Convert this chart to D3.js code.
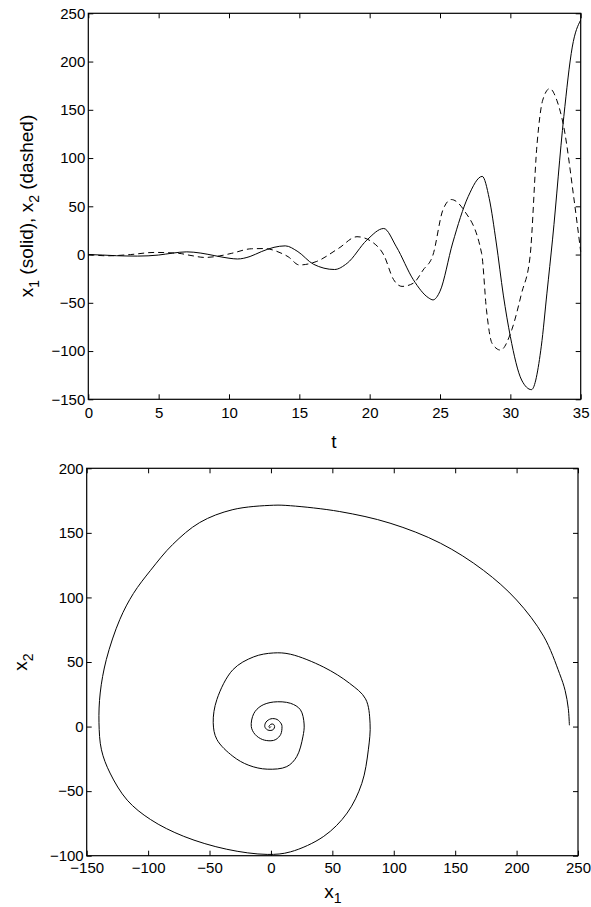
<!DOCTYPE html>
<html>
<head>
<meta charset="utf-8">
<script src="https://cdn.jsdelivr.net/npm/d3@7"></script>
<style>
  body { margin: 0; background: #fff; }
  svg { display: block; }
  text { font-family: "Liberation Sans", Arial, sans-serif; fill: #000; }
</style>
</head>
<body>
<svg width="591" height="907"></svg>
<script>
// top panel: x1 (solid) and x2 (dashed) against t
const solidT  = [0, 1, 2, 3.5, 5, 6, 7, 8, 9, 10, 10.6, 11.5, 12.3, 13.2, 14, 14.9, 16, 17.5, 18.4, 19.8, 21, 21.9, 23.1, 24.2, 24.5, 25, 25.9, 27, 28, 28.5, 29, 29.5, 30, 30.8, 31.5, 32.2, 32.6, 33, 33.8, 34.4, 35];
const solidX1 = [0, -0.5, -1.2, -1.6, -0.5, 1.5, 2.8, 1.5, -1.2, -3.8, -4.6, -2, 3, 7.5, 9, 3, -10, -15.5, -9, 15, 27, 8, -26, -45, -47, -38, 12, 60, 81, 58, 12, -42, -85, -130, -140, -95, -40, 16, 143, 215, 243];

const dashedT  = [0, 1.4, 3, 4.7, 6.4, 7.3, 8.3, 9.3, 10.2, 11.6, 12.5, 13.7, 14.2, 15, 16.2, 17.8, 19.1, 20.3, 21, 21.7, 22.3, 23.1, 23.8, 24.5, 25.2, 25.8, 26.7, 27.96, 28.3, 28.7, 29.3, 30.1, 30.8, 31.4, 31.9, 32.3, 32.8, 33.3, 33.8, 34.5, 35];
const dashedX2 = [0, -1.3, 0, 2.2, 1.3, -1, -3, -1.5, 1.3, 6, 6.2, 1.5, -2.2, -10.8, -7.3, 6.5, 18.5, 11.7, -0.4, -26, -33, -29.7, -16, -0.4, 46, 57, 46, 1, -57, -92, -99, -78, -40, -2, 115, 160, 172, 160, 132, 60, 3];

const topXTicks = [0, 5, 10, 15, 20, 25, 30, 35];
const topYTicks = [-150, -100, -50, 0, 50, 100, 150, 200, 250];

// bottom panel: phase plane x2 against x1, traced from the centre outwards
const phaseX1 = [0, -1, -1.6, 0, 2, 3, 2, 0, -3, -5, -4, 0, 5, 8.5, 9, 8, 4, 0, -7, -13, -16, -14, -8, 2, 16, 24, 27, 26, 21, 12.9, -3, -18, -31, -44, -47, -44, -31, -14, 2, 16, 43, 64, 77, 80.7, 79.3, 74, 62, 43, 16, -3, -36, -71, -98, -117, -131, -138, -140, -139, -134, -123, -112, -98, -80, -58, -31, 2, 16, 56, 97, 138, 173, 200, 222, 235, 239.5, 242.1, 243];
const phaseX2 = [0, -1, 0, 1.8, 1.8, 0, -2.2, -3, -2.5, 0, 3.5, 6, 5.5, 2, 0, -6, -10, -11, -10, -6, 0, 10, 16, 19, 18, 13, 2, -8, -23.3, -31, -33, -30, -23, -10, 3, 21, 44, 54, 57, 56, 46, 33.5, 21.5, 2.6, -18, -44, -67, -85, -97, -99, -95, -85, -72, -57, -36, -18, 3, 26, 52, 83, 103, 121, 141, 158, 168, 171.4, 171, 166.5, 157.5, 142, 121, 98, 70, 41, 28, 14, 1];

const botXTicks = [-150, -100, -50, 0, 50, 100, 150, 200, 250];
const botYTicks = [-100, -50, 0, 50, 100, 150, 200];

const svg = d3.select('svg');
const fmt = d3.format('');

function drawFrame(g, x, y, xTicks, yTicks, xPad) {
    const [x0, x1] = x.range();
    const [y0, y1] = y.range();

    g.append('g')
        .attr('transform', `translate(0,${y0})`)
        .call(d3.axisBottom(x).tickValues(xTicks).tickSize(-5).tickSizeOuter(0).tickPadding(xPad).tickFormat(fmt))
        .call(a => a.select('.domain').remove());
    g.append('g')
        .attr('transform', `translate(0,${y1})`)
        .call(d3.axisTop(x).tickValues(xTicks).tickSize(-5).tickSizeOuter(0).tickFormat(''))
        .call(a => a.select('.domain').remove());
    g.append('g')
        .attr('transform', `translate(${x0},0)`)
        .call(d3.axisLeft(y).tickValues(yTicks).tickSize(-5).tickSizeOuter(0).tickPadding(3).tickFormat(fmt))
        .call(a => a.select('.domain').remove());
    g.append('g')
        .attr('transform', `translate(${x1},0)`)
        .call(d3.axisRight(y).tickValues(yTicks).tickSize(-5).tickSizeOuter(0).tickFormat(''))
        .call(a => a.select('.domain').remove());

    g.selectAll('.tick line').attr('stroke', '#000').attr('stroke-width', 1);
    g.selectAll('.tick text').style('font-size', '15px').attr('fill', '#000');

    g.append('rect')
        .attr('x', x0).attr('y', y1)
        .attr('width', x1 - x0).attr('height', y0 - y1)
        .attr('fill', 'none').attr('stroke', '#000').attr('stroke-width', 1.2);
}

// ---- top panel
const xTop = d3.scaleLinear().domain([0, 35]).range([88.3, 580.7]);
const yTop = d3.scaleLinear().domain([-150, 250]).range([399.3, 13.3]);

const topPanel = svg.append('g');

const lineSolid = d3.line()
    .x((d, i) => xTop(solidT[i]))
    .y(d => yTop(d))
    .curve(d3.curveMonotoneX);

const lineDashed = d3.line()
    .x((d, i) => xTop(dashedT[i]))
    .y(d => yTop(d))
    .curve(d3.curveMonotoneX);

topPanel.append('path')
    .attr('d', lineSolid(solidX1))
    .attr('fill', 'none').attr('stroke', '#000').attr('stroke-width', 1);

topPanel.append('path')
    .attr('d', lineDashed(dashedX2))
    .attr('fill', 'none').attr('stroke', '#000').attr('stroke-width', 1)
    .attr('stroke-dasharray', '6,4');

drawFrame(topPanel, xTop, yTop, topXTicks, topYTicks, 8.5);

topPanel.append('text')
    .attr('x', 334).attr('y', 448)
    .attr('text-anchor', 'middle')
    .style('font-size', '19px')
    .text('t');

const yLab = topPanel.append('text')
    .attr('transform', 'translate(33,206) rotate(-90)')
    .attr('text-anchor', 'middle')
    .style('font-size', '19px');
yLab.append('tspan').text('x');
yLab.append('tspan').attr('dy', 6).style('font-size', '14px').text('1');
yLab.append('tspan').attr('dy', -6).text(' (solid), x');
yLab.append('tspan').attr('dy', 6).style('font-size', '14px').text('2');
yLab.append('tspan').attr('dy', -6).text(' (dashed)');

// ---- bottom panel
const xBot = d3.scaleLinear().domain([-150, 250]).range([86.7, 578]);
const yBot = d3.scaleLinear().domain([-100, 200]).range([855.7, 468.3]);

const botPanel = svg.append('g');

const linePhase = d3.line()
    .x(d => xBot(d))
    .y((d, i) => yBot(phaseX2[i]))
    .curve(d3.curveCatmullRom.alpha(0.5));

botPanel.append('path')
    .attr('d', linePhase(phaseX1))
    .attr('fill', 'none').attr('stroke', '#000').attr('stroke-width', 1);

drawFrame(botPanel, xBot, yBot, botXTicks, botYTicks, 7);

const xLab = botPanel.append('text')
    .attr('x', 333).attr('y', 898)
    .attr('text-anchor', 'middle')
    .style('font-size', '19px');
xLab.append('tspan').text('x');
xLab.append('tspan').attr('dy', 5).style('font-size', '14px').text('1');

const y2Lab = botPanel.append('text')
    .attr('transform', 'translate(27,662) rotate(-90)')
    .attr('text-anchor', 'middle')
    .style('font-size', '19px');
y2Lab.append('tspan').text('x');
y2Lab.append('tspan').attr('dy', 6).style('font-size', '14px').text('2');
</script>
</body>
</html>
